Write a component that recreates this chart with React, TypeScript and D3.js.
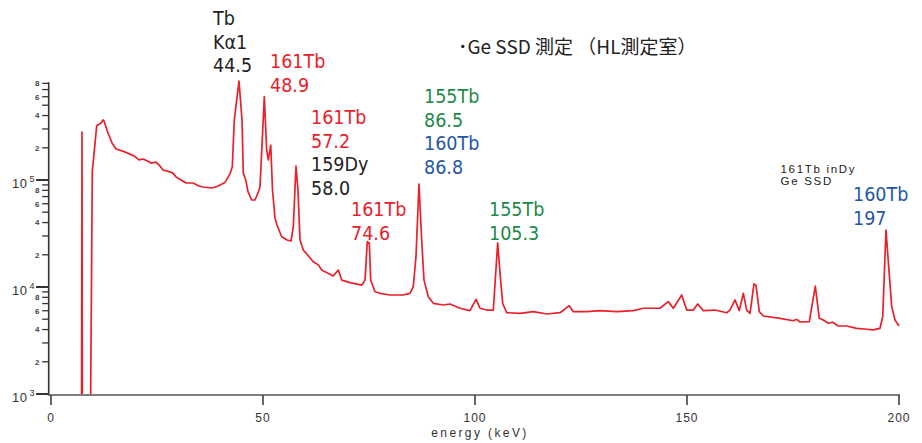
import * as d3 from 'd3';

// spectrum
const energy = [
  7.2, 7.3, 7.4, 9.3, 9.74, 10.78, 11.79, 12.26, 12.5, 13.44, 14.39, 15.33, 17.45, 19.58, 20.75, 21.7,
  22.64, 23.58, 24.76, 25.71, 26.42, 28.07, 28.77, 29.48, 30.66, 31.84, 33.49, 34.91, 35.85, 37.97,
  39.15, 41.04, 42.22, 42.76, 43.23, 44.34, 45.05, 45.35, 45.92, 46.46, 47.33, 48.11, 48.82, 49.29,
  50.31, 50.87, 51.25, 51.82, 52.24, 52.83, 53.3, 54.41, 55.66, 56.6, 57.15, 57.78, 58.25, 58.73,
  59.5, 61.86, 63.04, 63.84, 66.58, 67.76, 68.56, 70.52, 73.28, 74.06, 74.6, 75.07, 75.4, 76.42,
  77.59, 79.95, 83.02, 84.67, 85.45, 86.08, 86.79, 87.43, 87.97, 88.99, 90.17, 92.52, 94.1, 96.46,
  98.82, 100.24, 101.18, 102.76, 104.32, 105.35, 105.9, 106.53, 107.48, 110.61, 113.75, 116.91,
  120.05, 122.24, 123.18, 126.34, 129.48, 133.42, 137.33, 139.69, 143.63, 145.59, 146.77, 148.75,
  149.93, 151.49, 152.52, 153.85, 156.6, 159.36, 160.14, 161.32, 162.33, 163.28, 164.08, 164.86,
  165.8, 166.27, 167.05, 168.0, 171.93, 175.07, 175.87, 176.65, 178.84, 180.26, 181.2, 182.15,
  183.33, 184.36, 185.68, 187.67, 190.02, 192.38, 193.94, 195.52, 196.16, 196.93, 197.57, 198.28,
  199.06, 200.0,
];
const counts = [
  500, 281000, 500, 500, 120000, 321000, 341000, 364000, 356000, 275000, 222000, 195000, 183000, 168000, 154000, 157000,
  151000, 144000, 147000, 135000, 124000, 119000, 116000, 107000, 100000, 93700, 93700, 87900, 86000, 84200,
  87000, 95000, 114000, 133000, 364000, 841000, 364000, 116000, 100000, 77800, 65000, 65000, 75700, 86000,
  601000, 190000, 154000, 212000, 80700, 44100, 38000, 29500, 27500, 26900, 36600, 135000, 80700, 27500,
  22200, 17200, 16100, 14400, 12700, 14400, 11600, 11000, 10400, 11600, 26500, 25800, 11600, 9030,
  8730, 8420, 8420, 8730, 10100, 19200, 91800, 27500, 11600, 8110, 7040, 6790, 6940, 6330,
  6010, 7670, 6330, 6090, 6090, 25900, 13400, 7040, 5750, 5680, 5880, 5590,
  5750, 6690, 5880, 5880, 6010, 5880, 6010, 6330, 6330, 7300, 6330, 8420,
  6090, 6090, 6940, 6010, 6090, 5750, 6090, 7570, 6010, 8730, 6090, 5680,
  10700, 10400, 5880, 5360, 5100, 4840, 4990, 4710, 4740, 10200, 5100, 4920,
  4580, 4680, 4320, 4320, 4110, 4030, 3970, 4110, 5270, 34100, 15500, 6550,
  4920, 4320,
];

const xTicks = [0, 50, 100, 150, 200];
const decades = [3, 4, 5];
const minorMults = [2, 3, 4, 5, 6, 7, 8, 9];
const labelledMults = [2, 4, 6, 8];

const title = '･Ge SSD 測定 （HL測定室）';
const note = ['161Tb inDy', 'Ge SSD'];
const xLabel = 'energy (keV)';

const RED = '#e8212b';
const GREEN = '#1d8a47';
const BLUE = '#2656a6';
const BLACK = '#222';

// peak annotations: lines of [text, colour]
const peakLabels: [string, string][][] = [
  [['Tb', BLACK], ['Kα1', BLACK], ['44.5', BLACK]],
  [['161Tb', RED], ['48.9', RED]],
  [['161Tb', RED], ['57.2', RED], ['159Dy', BLACK], ['58.0', BLACK]],
  [['161Tb', RED], ['74.6', RED]],
  [['155Tb', GREEN], ['86.5', GREEN], ['160Tb', BLUE], ['86.8', BLUE]],
  [['155Tb', GREEN], ['105.3', GREEN]],
  [['160Tb', BLUE], ['197', BLUE]],
];
// layout of each annotation block: left x, first baseline
const peakLabelPos = [
  [213, 25],
  [270, 68],
  [311, 124],
  [351, 216],
  [424, 103],
  [489, 216],
  [853, 201],
];

export default function App() {
  const W = 922;
  const H = 443;
  const yBottom = 394;
  const decadePx = 107;

  const x = d3.scaleLinear().domain([0, 200]).range([51, 899]);
  const y = d3
    .scaleLog()
    .domain([1000, 820000])
    .range([yBottom, yBottom - decadePx * Math.log10(820)]);

  const pts = energy.map((e, i) => [e, counts[i]] as [number, number]);
  const line = d3
    .line<[number, number]>()
    .x((d) => x(d[0]))
    .y((d) => y(d[1]));

  const axisColor = '#333';
  const yAxisX = 48.7;
  const yTop = y.range()[1];

  const minorTicks: { v: number; m: number }[] = [];
  decades.forEach((d) => {
    minorMults.forEach((m) => {
      const v = m * Math.pow(10, d);
      if (v <= y.domain()[1]) minorTicks.push({ v, m });
    });
  });

  const font = '"DejaVu Sans Condensed", "DejaVu Sans", sans-serif';

  return (
    <svg
      width={W}
      height={H}
      style={{ position: 'absolute', left: 0, top: 0, background: '#fff' }}
    >
      <defs>
        <clipPath id="plot-clip">
          <rect x={yAxisX + 1} y={0} width={W} height={yBottom} />
        </clipPath>
      </defs>

      {/* Y axis */}
      <line x1={yAxisX} x2={yAxisX} y1={yTop} y2={yBottom + 1} stroke={axisColor} strokeWidth={1.6} />
      {minorTicks.map((t, i) => (
        <line
          key={'mt' + i}
          x1={yAxisX - 6.5}
          x2={yAxisX}
          y1={y(t.v)}
          y2={y(t.v)}
          stroke={axisColor}
          strokeWidth={1.3}
        />
      ))}
      {minorTicks
        .filter((t) => labelledMults.includes(t.m))
        .map((t, i) => (
          <text
            key={'ml' + i}
            x={39.5}
            y={y(t.v)}
            dy="0.35em"
            textAnchor="end"
            fontFamily="Liberation Sans, Arial, sans-serif"
            fontWeight="bold"
            fontSize={8}
            fill="#444"
          >
            {t.m}
          </text>
        ))}
      {decades.map((d) => (
        <g key={'d' + d}>
          <line
            x1={36}
            x2={yAxisX}
            y1={y(Math.pow(10, d))}
            y2={y(Math.pow(10, d))}
            stroke={axisColor}
            strokeWidth={2}
          />
          <text
            x={12}
            y={y(Math.pow(10, d)) + 7.5}
            fontFamily="Liberation Sans, Arial, sans-serif"
            fontSize={13}
            letterSpacing={0.5}
            fill="#333"
          >
            10
          </text>
          <text
            x={29.5}
            y={y(Math.pow(10, d)) + 2}
            fontFamily="Liberation Sans, Arial, sans-serif"
            fontSize={9}
            fill="#333"
          >
            {d}
          </text>
        </g>
      ))}

      {/* X axis */}
      <line x1={yAxisX - 1} x2={x(200) + 1} y1={yBottom + 1} y2={yBottom + 1} stroke="#555" strokeWidth={1.5} />
      {xTicks.map((t) => (
        <g key={'xt' + t}>
          <line x1={x(t)} x2={x(t)} y1={yBottom + 1} y2={yBottom + 11} stroke={axisColor} strokeWidth={1.5} />
          <text
            x={x(t)}
            y={422}
            textAnchor="middle"
            fontFamily="Liberation Sans, Arial, sans-serif"
            fontSize={12}
            letterSpacing={1}
            fill="#333"
          >
            {t}
          </text>
        </g>
      ))}
      <text
        x={480}
        y={437}
        textAnchor="middle"
        fontFamily="Liberation Sans, Arial, sans-serif"
        fontSize={12}
        letterSpacing={2.4}
        fill="#333"
      >
        {xLabel}
      </text>

      {/* spectrum */}
      <path
        d={line(pts) || ''}
        fill="none"
        stroke={RED}
        strokeWidth={1.7}
        strokeLinejoin="round"
        clipPath="url(#plot-clip)"
      />

      {/* title and note */}
      <text
        x={458}
        y={54}
        fontFamily='"Noto Sans CJK JP", sans-serif'
        fontSize={19}
        fill="#222"
      >
        {title}
      </text>
      {note.map((s, i) => (
        <text
          key={'n' + i}
          x={780.5}
          y={172.5 + i * 12}
          fontFamily="Liberation Sans, Arial, sans-serif"
          fontSize={11.5}
          letterSpacing={1.7}
          fill="#222"
        >
          {s}
        </text>
      ))}

      {/* peak labels */}
      {peakLabels.map((block, bi) => (
        <g key={'pl' + bi}>
          {block.map(([s, c], li) => (
            <text
              key={li}
              x={peakLabelPos[bi][0]}
              y={peakLabelPos[bi][1] + li * 23.5}
              fontFamily={font}
              fontSize={19.5}
              fill={c}
            >
              {s}
            </text>
          ))}
        </g>
      ))}
    </svg>
  );
}
